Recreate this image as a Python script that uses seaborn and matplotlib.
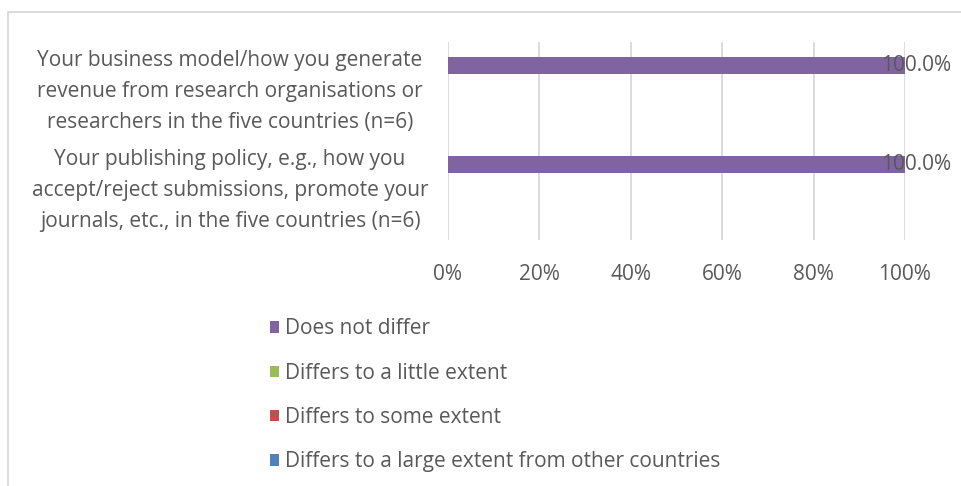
import matplotlib
matplotlib.use("Agg")
import matplotlib.pyplot as plt
import seaborn as sns
import pandas as pd
from matplotlib.patches import Rectangle
from matplotlib.ticker import FuncFormatter
from matplotlib.transforms import blended_transform_factory

# Survey items (y categories)
items = [
    "Your business model/how you generate\nrevenue from research organisations or\nresearchers in the five countries (n=6)",
    "Your publishing policy, e.g., how you\naccept/reject submissions, promote your\njournals, etc., in the five countries (n=6)",
]
# Response categories and their shares (%) per item
responses = [
    "Does not differ",
    "Differs to a little extent",
    "Differs to some extent",
    "Differs to a large extent from other countries",
]
does_not_differ = [100.0, 100.0]
little_extent = [0.0, 0.0]
some_extent = [0.0, 0.0]
large_extent = [0.0, 0.0]
colors = ["#8064A2", "#9BBB59", "#C0504D", "#4F81BD"]
x_ticks = [0, 20, 40, 60, 80, 100]

series = [does_not_differ, little_extent, some_extent, large_extent]
rows = []
for resp, vals in zip(responses, series):
    for item, v in zip(items, vals):
        rows.append({"item": item, "response": resp, "value": v})
df = pd.DataFrame(rows)

sns.set_theme(style="white")
plt.rcParams["font.family"] = ["Open Sans", "DejaVu Sans"]
text_color = "#595959"
fs = 15

W, H = 961, 486
fig = plt.figure(figsize=(W / 100, H / 100), dpi=100)
ax = fig.add_axes([448 / W, 1 - 240 / H, (905 - 448) / W, (240 - 42) / H])

sns.barplot(data=df, x="value", y="item", hue="response", hue_order=responses,
            palette=colors, saturation=1, orient="h", width=0.69, linewidth=0, ax=ax)

ax.set_xlim(0, 100)
ax.set_xticks(x_ticks)
ax.xaxis.set_major_formatter(FuncFormatter(lambda v, p: f"{v:.0f}%"))
ax.grid(axis="x", color="#D9D9D9", linewidth=1.3)
ax.set_axisbelow(True)
for s in ax.spines.values():
    s.set_visible(False)
ax.set_xlabel("")
ax.set_ylabel("")
ax.tick_params(axis="x", length=0, pad=17.5, labelsize=fs, labelcolor=text_color)
ax.tick_params(axis="y", length=0)

# category labels, centred in the column left of the plot
ax.set_yticklabels([])
lab_tr = blended_transform_factory(fig.transFigure, ax.transData)
for i, item in enumerate(items):
    ax.text(230 / W, i, item, transform=lab_tr, ha="center", va="center",
            fontsize=fs, color=text_color, linespacing=1.6, multialignment="center")

# value labels on non-zero bars
for cont, vals in zip(ax.containers, series):
    labels = [f"{v:.1f}%" if v > 0 else "" for v in vals]
    ax.bar_label(cont, labels=labels, padding=-17, fontsize=fs, color=text_color)

# legend below the plot
leg = ax.get_legend()
handles, labels = ax.get_legend_handles_labels()
leg.remove()
fig.legend(handles, labels, loc="upper left", bbox_to_anchor=(262 / W, 1 - 310 / H),
           frameon=False, fontsize=fs, labelcolor=text_color, handlelength=0.4,
           handleheight=0.45, handletextpad=0.3, labelspacing=1.12, borderaxespad=0)

# outer chart border
fig.patches.append(Rectangle((8 / W, -0.1), 1.2, 1 - 12 / H + 0.1, transform=fig.transFigure,
                             fill=False, edgecolor="#D9D9D9", linewidth=1.3))

fig.savefig("out.png", dpi=100)
